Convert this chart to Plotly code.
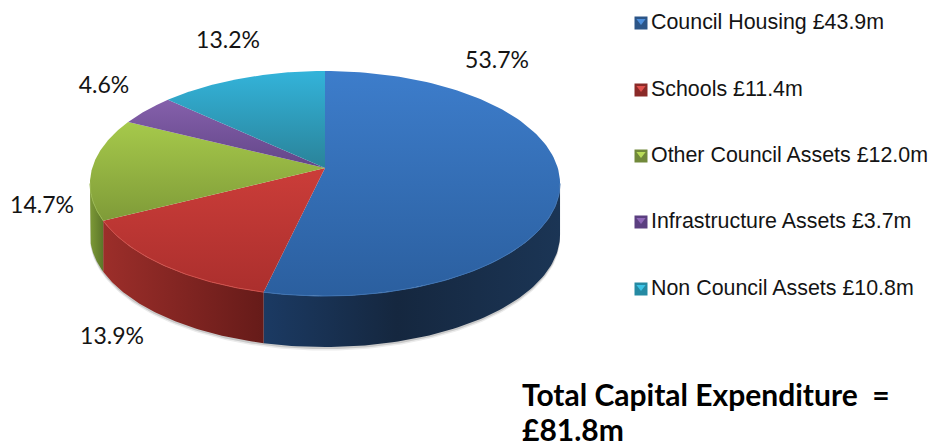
import numpy as np
import plotly.graph_objects as go

categories = ["Council Housing", "Schools", "Other Council Assets", "Infrastructure Assets", "Non Council Assets"]
values_m = [43.9, 11.4, 12.0, 3.7, 10.8]
legend_labels = ["Council Housing £43.9m", "Schools £11.4m", "Other Council Assets £12.0m",
                 "Infrastructure Assets £3.7m", "Non Council Assets £10.8m"]
pct_labels = ["53.7%", "13.9%", "14.7%", "4.6%", "13.2%"]
total_lines = ["Total Capital Expenditure  =", "£81.8m"]

top_colors = [("#3d7dcb", "#2b5f9f"), ("#cb3d39", "#ab2f2d"), ("#a6c94b", "#7f9b38"),
              ("#8560ab", "#634689"), ("#33b3da", "#2a8399")]
wall_colors = [("#1b3a63", "#15273f", "#1b3555"), ("#9c2e2a", "#661b19", None), ("#7d9a37", "#5c7629", None)]
swatch_dark = ["#2c5587", "#8a2a28", "#71893a", "#5b3f80", "#258aa3"]
swatch_light = ["#4d8fdc", "#e0504c", "#b9dc58", "#8f68b8", "#3cc3e6"]
text_pos = [(497, 62), (112, 338), (42, 207), (104, 87), (228, 42)]
legend_y = [23, 90, 156, 222, 289]

CX, CY = 325, 168
A, C, D = -110.4, 0.1378, 232.8
DEPTH = 51


def project(theta):
    t = np.radians(theta)
    X, Y = np.sin(t), np.cos(t)
    w = 1 + C * Y
    return CX + D * X / w, CY + A * Y / w


share = np.array(values_m) / sum(values_m) * 360
ends = np.cumsum(share)
starts = ends - share
VIS_L, VIS_R = 97.9, 262.1

fig = go.Figure()


def poly(x, y, fill=None, grad=None):
    fig.add_trace(go.Scatter(x=list(x), y=list(y), mode="lines", fill="toself", line=dict(width=0),
                             fillcolor=fill, fillgradient=grad, hoverinfo="skip", showlegend=False))


# soft shadow below the body
th = np.linspace(VIS_L - 3, VIS_R + 3, 160)
sx, sy = project(th)
for off, col in [(3.5, "#ececec"), (2, "#c9c9c9")]:
    poly(np.r_[sx, sx[::-1]], np.r_[sy, sy[::-1] + DEPTH + off], fill=col)

# side walls
for i, cols in enumerate(wall_colors):
    a, b = max(starts[i], VIS_L), min(ends[i], VIS_R)
    th = np.linspace(a, b, 80)
    x, y = project(th)
    if cols[2]:
        scale = [[0, cols[0]], [0.45, cols[1]], [1, cols[2]]]
    else:
        scale = [[0, cols[0]], [1, cols[1]]]
    poly(np.r_[x, x[::-1]], np.r_[y, y[::-1] + DEPTH],
         grad=dict(type="horizontal", colorscale=scale))

# top faces (plotly's vertical gradient runs bottom to top)
for i in range(len(values_m)):
    th = np.linspace(starts[i], ends[i], 120)
    x, y = project(th)
    poly(np.r_[CX, x, CX], np.r_[CY, y, CY],
         grad=dict(type="vertical", colorscale=[[0, top_colors[i][1]], [1, top_colors[i][0]]]))

# rim highlight on the front edge
rim = ["#3f74b4", "#d0514c", "#98b74e"]
for i in range(3):
    a, b = max(starts[i], VIS_L), min(ends[i], VIS_R)
    x, y = project(np.linspace(a, b, 80))
    fig.add_trace(go.Scatter(x=x, y=y, mode="lines", line=dict(color=rim[i], width=1),
                             hoverinfo="skip", showlegend=False))

# percentage labels
fig.add_trace(go.Scatter(x=[p[0] for p in text_pos], y=[p[1] for p in text_pos], text=pct_labels,
                         mode="text", textposition="middle center",
                         textfont=dict(family="Lato", size=23, color="#141414"),
                         hoverinfo="skip", showlegend=False))

# legend
fig.add_trace(go.Scatter(x=[641] * 5, y=legend_y, mode="markers",
                         marker=dict(symbol="square", size=13, color=swatch_dark),
                         hoverinfo="skip", showlegend=False))
fig.add_trace(go.Scatter(x=[641] * 5, y=[v - 2 for v in legend_y], mode="markers",
                         marker=dict(symbol="triangle-down", size=8, color=swatch_light),
                         hoverinfo="skip", showlegend=False))
fig.add_trace(go.Scatter(x=[651] * 5, y=[v + 1 for v in legend_y], text=legend_labels, mode="text",
                         textposition="middle right",
                         textfont=dict(family="Arial, 'Liberation Sans', sans-serif", size=21.4, color="#141414"),
                         hoverinfo="skip", showlegend=False))

# total
fig.add_trace(go.Scatter(x=[522, 522], y=[398, 433], text=total_lines, mode="text",
                         textposition="middle right",
                         textfont=dict(family="Lato", size=30, color="#000000", weight="bold"),
                         hoverinfo="skip", showlegend=False))

fig.update_layout(width=933, height=445, margin=dict(l=0, r=0, t=0, b=0),
                  paper_bgcolor="white", plot_bgcolor="white",
                  xaxis=dict(range=[0, 933], visible=False, fixedrange=True),
                  yaxis=dict(range=[445, 0], visible=False, fixedrange=True))
fig.write_html("out.html", config=dict(displayModeBar=False),
               post_script="document.body.style.margin='0';document.documentElement.style.overflow='hidden';")
